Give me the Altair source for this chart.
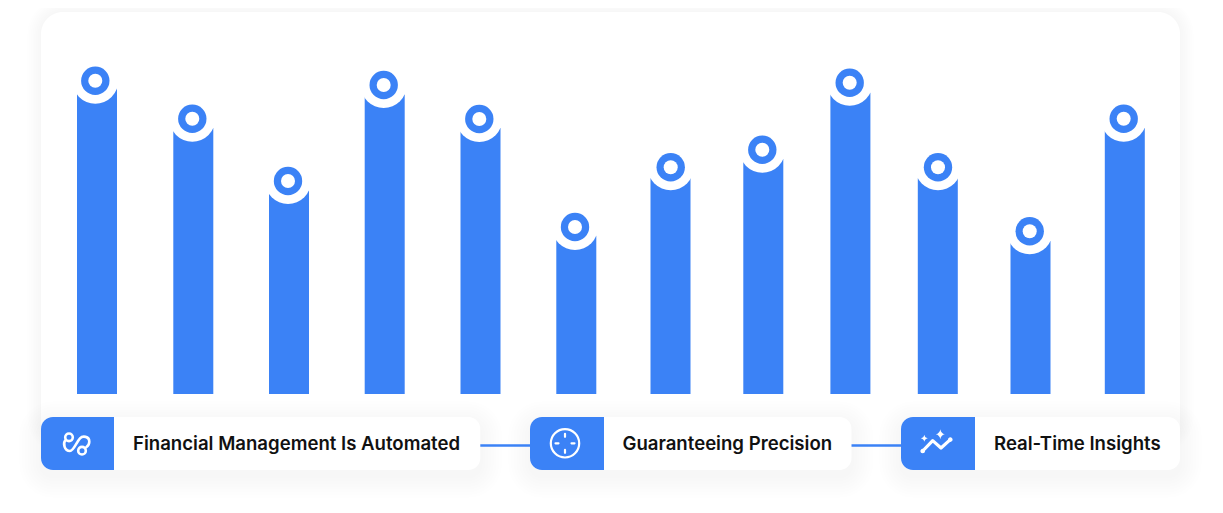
import altair as alt
import pandas as pd

categories = list("ABCDEFGHIJKL")
bar_values = [305.5, 265.9, 203.6, 299.6, 266.1, 158.3, 215.7, 234.9, 301.3, 215.7, 152.9, 266.1]
marker_values = [313.3, 275.3, 213, 309, 275, 167, 226.7, 244.3, 311.3, 226.7, 162.7, 275.3]
step_labels = ["Financial Management Is Automated", "Guaranteeing Precision", "Real-Time Insights"]

BLUE = "#3B82F6"
W, H = 1207, 497
bar_centers = [97, 193.3, 289, 384.7, 480.5, 576.3, 670.5, 763.3, 850.4, 937.8, 1030.5, 1124.8]
marker_centers = [95.3, 192.3, 288, 383.7, 479.3, 575, 670.7, 762.3, 849.7, 938, 1029.7, 1123.7]

index = list(range(len(categories)))
x_cat = alt.Scale(domain=index, range=[c - 8 for c in bar_centers])
x_mark = alt.Scale(domain=index, range=[c - 8 for c in marker_centers])
x_px = alt.Scale(domain=[8, 1215], range=[0, W])
y_val = alt.Scale(domain=[-111, 386], range=[H, 0])
y_px = alt.Scale(domain=[505, 8], range=[H, 0])

bars = pd.DataFrame({"cat": categories, "i": index, "value": bar_values, "marker": marker_values})


def X(f, s=x_px):
    return alt.X(f, scale=s, axis=None)


def Y(f, s=y_px):
    return alt.Y(f, scale=s, axis=None)


def box(x0, x1, y0, y1, **kw):
    return alt.Chart(pd.DataFrame({"a": [x0], "b": [x1], "c": [y0], "d": [y1]})).mark_rect(**kw).encode(
        x=X("a:Q"), x2="b:Q", y=Y("c:Q"), y2="d:Q")


def shadow(x0, x1, y0, y1, r, spread, dy, op, n=8):
    out = []
    for i in range(n):
        g = spread * (n - i) / n
        out.append(box(x0 - g, x1 + g, y0 - g + dy, y1 + g + dy, color="#000000", opacity=op, cornerRadius=r + g))
    return out


def icon(cx, cy, path, filled=False, width=2.2):
    kw = dict(shape=path, size=4, opacity=1)
    if filled:
        kw.update(filled=True, fill="#FFFFFF", strokeWidth=0)
    else:
        kw.update(filled=False, stroke="#FFFFFF", strokeWidth=width, strokeCap="round", strokeJoin="round")
    return alt.Chart(pd.DataFrame({"x": [cx], "y": [cy]})).mark_point(**kw).encode(x=X("x:Q"), y=Y("y:Q"))


layers = []
layers += shadow(41, 1180, 12, 440, 22, 14, 0, 0.0035)
layers.append(box(41, 1180, 12, 480, color="#FFFFFF", cornerRadius=22))
layers.append(alt.Chart(bars).mark_rule(color=BLUE, strokeWidth=40, strokeCap="butt").encode(
    x=X("i:Q", x_cat), y=Y("value:Q", y_val), y2=alt.Y2(datum=0)))
for size, col in [(2116, "#FFFFFF"), (806, BLUE), (196, "#FFFFFF")]:
    layers.append(alt.Chart(bars).mark_point(filled=True, color=col, opacity=1, size=size).encode(
        x=X("i:Q", x_mark), y=Y("marker:Q", y_val)))

cards = [(41, 114, 480.3, 133, step_labels[0]), (530, 604, 851.5, 622.5, step_labels[1]), (901, 975, 1180, 994, step_labels[2])]
for x0, xb, x1, xt, label in cards:
    layers += shadow(x0, x1, 417, 470, 12, 22, 6, 0.004)
for a, b in [(480, 530), (851, 901)]:
    layers.append(box(a, b, 444.2, 446.8, color=BLUE))
for x0, xb, x1, xt, label in cards:
    layers.append(box(x0, x1, 417, 470, color="#FFFFFF", cornerRadius=12))
    layers.append(box(x0, xb, 417, 470, color=BLUE, cornerRadiusTopLeft=12, cornerRadiusBottomLeft=12))
    layers.append(alt.Chart(pd.DataFrame({"x": [xt], "y": [443.5], "t": [label]})).mark_text(
        align="left", baseline="middle", font="Inter", fontSize=18.6, fontWeight=600, color="#111111").encode(
        x=X("x:Q"), y=Y("y:Q"), text="t:N"))

link = ("M-10.2,-3.6 C-12.5,-1 -11.5,7 -5.5,7 C-2,7 1,-2 4.5,-5.7 C7,-8.3 13.8,-8 13.8,-2.3 C13.8,0 12.5,1.8 11,3 "
        "M-2.7,-6.7 A3.8,3.8 0 1 0 -10.3,-6.7 A3.8,3.8 0 1 0 -2.7,-6.7 Z "
        "M10.3,6.7 A3.8,3.8 0 1 0 2.7,6.7 A3.8,3.8 0 1 0 10.3,6.7 Z")
target = ("M14.2,0 A14.2,14.2 0 1 0 -14.2,0 A14.2,14.2 0 1 0 14.2,0 Z "
          "M0,-9.5 L0,-6.5 M0,6.5 L0,9.5 M-9.5,0 L-6.5,0 M6.5,0 L9.5,0")
trend = "M-13.3,7.7 L-3.3,-2.7 L5,4.7 L14.3,-3.7"
trend_ends = ("M-11,7.7 A2.3,2.3 0 1 0 -15.6,7.7 A2.3,2.3 0 1 0 -11,7.7 Z "
              "M16.6,-3.7 A2.3,2.3 0 1 0 12,-3.7 A2.3,2.3 0 1 0 16.6,-3.7 Z")
stars = ("M4.3,-14 Q5,-9.8 8.8,-9 Q5,-8.2 4.3,-4 Q3.6,-8.2 -0.2,-9 Q3.6,-9.8 4.3,-14 Z "
         "M-11.7,-8.5 Q-11.2,-5.5 -8.2,-5 Q-11.2,-4.5 -11.7,-1.5 Q-12.2,-4.5 -15.2,-5 Q-12.2,-5.5 -11.7,-8.5 Z")
layers += [icon(75.5, 444, link, width=2.6), icon(565, 443.3, target, width=2.2),
           icon(936, 443.3, trend, width=3.2), icon(936, 443.3, trend_ends, filled=True),
           icon(936, 443.3, stars, filled=True)]

chart = alt.layer(*layers).resolve_scale(x="independent", y="independent").properties(
    width=W, height=H, padding=0, autosize=alt.AutoSizeParams(type="none")
).configure_view(stroke=None)
chart.save("out.html", embed_options={"renderer": "svg", "actions": False})
